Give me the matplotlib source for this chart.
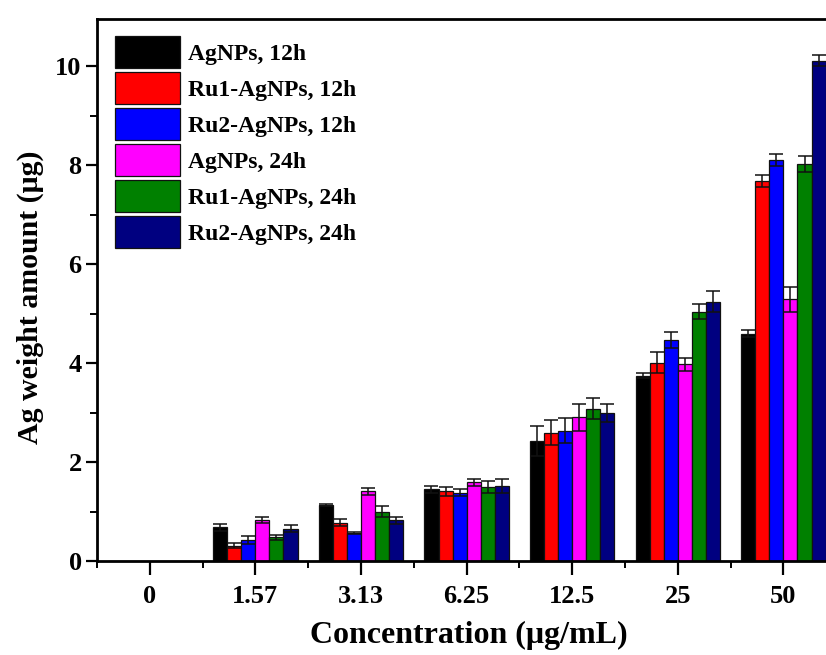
import matplotlib
matplotlib.use("Agg")
import matplotlib.pyplot as plt
import numpy as np
from matplotlib.ticker import MultipleLocator, FixedLocator

plt.rcParams['font.family'] = ['Liberation Serif', 'DejaVu Serif']
plt.rcParams['font.weight'] = 'bold'
plt.rcParams['mathtext.default'] = 'regular'

concentrations = ["0", "1.57", "3.13", "6.25", "12.5", "25", "50"]
series_names = ["AgNPs, 12h", "Ru1-AgNPs, 12h", "Ru2-AgNPs, 12h",
                "AgNPs, 24h", "Ru1-AgNPs, 24h", "Ru2-AgNPs, 24h"]
series_colors = ["#000000", "#ff0000", "#0000ff", "#ff00ff", "#008000", "#000080"]

agnps_12h = [0, 0.68, 1.13, 1.45, 2.42, 3.74, 4.59]
ru1_12h = [0, 0.31, 0.77, 1.41, 2.59, 4.01, 7.68]
ru2_12h = [0, 0.42, 0.56, 1.38, 2.63, 4.47, 8.10]
agnps_24h = [0, 0.83, 1.41, 1.59, 2.90, 3.97, 5.29]
ru1_24h = [0, 0.48, 1.00, 1.49, 3.08, 5.04, 8.02]
ru2_24h = [0, 0.65, 0.82, 1.52, 2.99, 5.24, 10.11]

agnps_12h_err = [0, 0.07, 0.02, 0.07, 0.30, 0.05, 0.07]
ru1_12h_err = [0, 0.05, 0.07, 0.09, 0.25, 0.21, 0.12]
ru2_12h_err = [0, 0.08, 0.02, 0.07, 0.25, 0.16, 0.12]
agnps_24h_err = [0, 0.06, 0.07, 0.07, 0.28, 0.14, 0.25]
ru1_24h_err = [0, 0.05, 0.11, 0.12, 0.22, 0.16, 0.16]
ru2_24h_err = [0, 0.07, 0.07, 0.14, 0.18, 0.21, 0.11]

values = [agnps_12h, ru1_12h, ru2_12h, agnps_24h, ru1_24h, ru2_24h]
errors = [agnps_12h_err, ru1_12h_err, ru2_12h_err, agnps_24h_err, ru1_24h_err, ru2_24h_err]

fig = plt.figure(figsize=(8.26, 6.55), dpi=100)
ax = fig.add_axes([0.1174, 0.1435, 0.8886, 0.8275])

x = np.arange(len(concentrations))
w = 0.133
for k, (vals, errs, name, col) in enumerate(zip(values, errors, series_names, series_colors)):
    pos = x + (k - 2.5) * w
    vals = np.array(vals)
    errs = np.array(errs)
    ax.bar(pos, vals, width=w, color=col, edgecolor='#111111', linewidth=0.9,
           label=name, zorder=2)
    mask = vals > 0
    ax.errorbar(pos[mask], vals[mask], yerr=errs[mask], fmt='none', ecolor='#111111',
                elinewidth=1.1, capsize=5, capthick=1.1, zorder=3)

ax.set_xlim(-0.5, 6.45)
ax.set_ylim(0, 10.95)

ax.set_xticks(x)
ax.set_xticklabels(concentrations)
ax.xaxis.set_minor_locator(FixedLocator(np.arange(-0.5, 6.6, 1.0)))
ax.yaxis.set_major_locator(MultipleLocator(2))
ax.yaxis.set_minor_locator(MultipleLocator(1))

ax.tick_params(axis='x', which='major', direction='out', length=10, width=1.6,
               labelsize=19, pad=7)
ax.tick_params(axis='x', which='minor', direction='out', length=5, width=1.4)
ax.tick_params(axis='y', which='major', direction='out', length=8, width=1.6,
               labelsize=19, pad=3)
ax.tick_params(axis='y', which='minor', direction='out', length=5, width=1.4)

for side in ['left', 'bottom', 'top']:
    ax.spines[side].set_linewidth(2.0)
ax.spines['right'].set_visible(False)

ax.set_xlabel("Concentration (μg/mL)", fontsize=23, fontweight='bold', va='center')
ax.xaxis.set_label_coords(0.507, -0.1365)
ax.set_ylabel("Ag weight amount (μg)", fontsize=21.5, fontweight='bold', va='center')
ax.yaxis.set_label_coords(-0.0913, 0.486)

leg = ax.legend(loc='upper left', bbox_to_anchor=(0.0245, 0.9686), frameon=False,
                fontsize=17, handlelength=2.75, handleheight=1.71, labelspacing=0.17,
                handletextpad=0.33, borderpad=0, borderaxespad=0)

fig.savefig("out.png", dpi=100)
